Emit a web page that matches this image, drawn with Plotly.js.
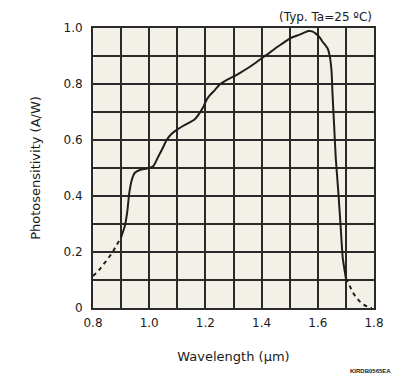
<!DOCTYPE html>
<html>
<head>
<meta charset="utf-8">
<script src="https://cdn.plot.ly/plotly-3.0.1.min.js"></script>
<style>html,body{margin:0;padding:0;background:#fff;}#chart{width:396px;height:380px;}</style>
</head>
<body>
<div id="chart"></div>
<script>
// Extrapolated (dashed) short-wavelength tail
const dashLowX = [0.800, 0.825, 0.849, 0.870, 0.884, 0.900];
const dashLowY = [0.114, 0.140, 0.171, 0.200, 0.225, 0.252];
// Measured (solid) curve
const solidX = [0.900, 0.914, 0.922, 0.929, 0.938, 0.949, 0.967, 0.997, 1.015, 1.032, 1.050, 1.062, 1.080, 1.098, 1.120, 1.139, 1.160, 1.175, 1.193, 1.204, 1.216, 1.235, 1.252, 1.275, 1.299, 1.325, 1.353, 1.375, 1.400, 1.425, 1.448, 1.475, 1.501, 1.537, 1.566, 1.580, 1.594, 1.608, 1.617, 1.635, 1.643, 1.649, 1.652, 1.658, 1.664, 1.673, 1.681, 1.689, 1.700];
const solidY = [0.252, 0.296, 0.344, 0.410, 0.457, 0.483, 0.493, 0.499, 0.507, 0.540, 0.575, 0.600, 0.622, 0.636, 0.650, 0.660, 0.672, 0.690, 0.719, 0.743, 0.760, 0.780, 0.799, 0.814, 0.826, 0.841, 0.858, 0.873, 0.892, 0.909, 0.927, 0.945, 0.963, 0.977, 0.989, 0.988, 0.979, 0.965, 0.951, 0.927, 0.897, 0.844, 0.772, 0.654, 0.535, 0.415, 0.296, 0.177, 0.106];
// Extrapolated (dashed) long-wavelength tail
const dashHighX = [1.700, 1.714, 1.727, 1.742, 1.756, 1.775, 1.792];
const dashHighY = [0.106, 0.078, 0.052, 0.032, 0.017, 0.006, 0.000];

const xTickVals = [0.8, 1.0, 1.2, 1.4, 1.6, 1.8];
const xTickText = ["0.8", "1.0", "1.2", "1.4", "1.6", "1.8"];
const yTickVals = [0, 0.2, 0.4, 0.6, 0.8, 1.0];
const yTickText = ["0", "0.2", "0.4", "0.6", "0.8", "1.0"];

const lineColor = '#1e1e1e';
const gridColor = '#2a2a2a';
const traces = [
  {x: dashLowX, y: dashLowY, mode: 'lines', line: {color: lineColor, width: 2, dash: '4px,4px', shape: 'spline'}, hoverinfo: 'skip'},
  {x: solidX, y: solidY, mode: 'lines', line: {color: lineColor, width: 2, shape: 'spline', smoothing: 0.6}, hoverinfo: 'skip'},
  {x: dashHighX, y: dashHighY, mode: 'lines', line: {color: lineColor, width: 2, dash: '4px,4px', shape: 'spline'}, hoverinfo: 'skip'}
];

const font = {family: 'DejaVu Sans, Verdana, sans-serif', size: 12, color: '#1a1a1a'};
const layout = {
  width: 396, height: 380,
  margin: {l: 93, r: 22, t: 28, b: 72},
  paper_bgcolor: '#ffffff',
  plot_bgcolor: '#f3f0e7',
  showlegend: false,
  font: font,
  xaxis: {
    range: [0.8, 1.8], tickvals: xTickVals, ticktext: xTickText,
    showgrid: true, gridcolor: gridColor, gridwidth: 2,
    minor: {dtick: 0.1, tick0: 0.8, showgrid: true, gridcolor: gridColor, gridwidth: 2},
    zeroline: false, showline: true, linecolor: gridColor, linewidth: 2, mirror: true,
    ticks: 'outside', ticklen: 3, tickcolor: 'rgba(0,0,0,0)',
    tickfont: {family: font.family, size: 12, color: '#1a1a1a'},
    title: {text: 'Wavelength (μm)', font: {family: font.family, size: 13, color: '#1a1a1a'}, standoff: 22}
  },
  yaxis: {
    range: [0, 1.0], tickvals: yTickVals, ticktext: yTickText,
    showgrid: true, gridcolor: gridColor, gridwidth: 2,
    minor: {dtick: 0.1, tick0: 0, showgrid: true, gridcolor: gridColor, gridwidth: 2},
    zeroline: false, showline: true, linecolor: gridColor, linewidth: 2, mirror: true,
    ticks: 'outside', ticklen: 6, tickcolor: 'rgba(0,0,0,0)',
    tickfont: {family: font.family, size: 12, color: '#1a1a1a'},
    title: {text: 'Photosensitivity (A/W)', font: {family: font.family, size: 13, color: '#1a1a1a'}, standoff: 20}
  },
  annotations: [
    {text: '(Typ. Ta=25 ºC)', xref: 'paper', yref: 'paper', x: 1, y: 1, xanchor: 'right', yanchor: 'bottom', yshift: 2, showarrow: false,
     font: {family: font.family, size: 12, color: '#1a1a1a'}},
    {text: '<b>KIRDB0565EA</b>', xref: 'paper', yref: 'paper', x: 1, y: 0, xanchor: 'right', yanchor: 'middle', xshift: 19, yshift: -63, showarrow: false,
     font: {family: 'Liberation Sans Narrow, Arial Narrow, sans-serif', size: 6, color: '#1a1a1a'}}
  ]
};

Plotly.newPlot('chart', traces, layout, {staticPlot: true, displayModeBar: false});
</script>
</body>
</html>
